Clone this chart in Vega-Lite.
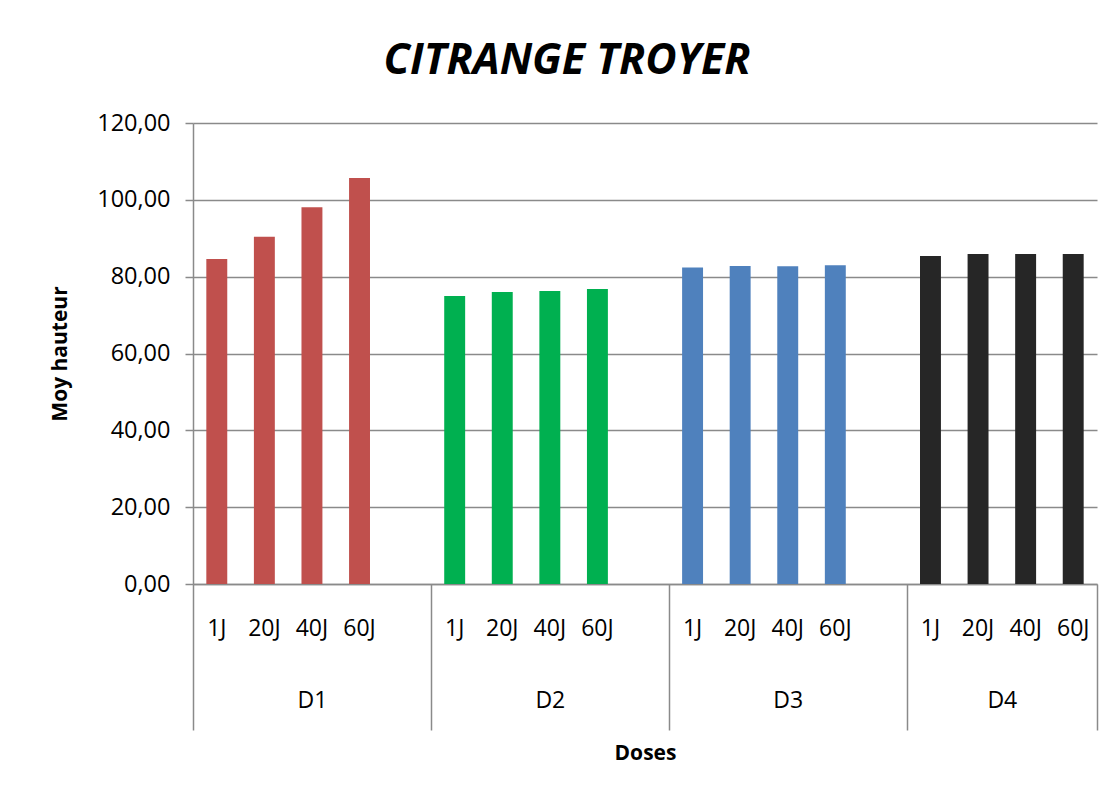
{
  "$schema": "https://vega.github.io/schema/vega-lite/v6.json",
  "width": 904,
  "height": 461,
  "autosize": {"type": "none"},
  "padding": {"left": 193, "top": 123, "right": 18, "bottom": 210},
  "background": "white",
  "title": {
    "text": "CITRANGE TROYER",
    "font": "Open Sans",
    "fontSize": 43,
    "fontWeight": "bold",
    "fontStyle": "italic",
    "color": "black",
    "anchor": "middle",
    "dx": -78,
    "offset": 28
  },
  "config": {
    "view": {"stroke": null},
    "font": "Open Sans",
    "axis": {
      "labelFont": "Open Sans",
      "titleFont": "Open Sans",
      "labelColor": "black",
      "titleColor": "black",
      "domainColor": "#8a8a8a",
      "tickColor": "#8a8a8a",
      "gridColor": "#8a8a8a",
      "domainWidth": 1.5,
      "tickWidth": 1.5,
      "gridWidth": 1.5
    }
  },
  "data": {
    "values": [
      {"dose": "D1", "day": "1J", "key": "D1 1J", "moy": 84.6},
      {"dose": "D1", "day": "20J", "key": "D1 20J", "moy": 90.4},
      {"dose": "D1", "day": "40J", "key": "D1 40J", "moy": 98.1},
      {"dose": "D1", "day": "60J", "key": "D1 60J", "moy": 105.7},
      {"dose": "D2", "day": "1J", "key": "D2 1J", "moy": 75.0},
      {"dose": "D2", "day": "20J", "key": "D2 20J", "moy": 76.0},
      {"dose": "D2", "day": "40J", "key": "D2 40J", "moy": 76.3},
      {"dose": "D2", "day": "60J", "key": "D2 60J", "moy": 76.8},
      {"dose": "D3", "day": "1J", "key": "D3 1J", "moy": 82.4},
      {"dose": "D3", "day": "20J", "key": "D3 20J", "moy": 82.8},
      {"dose": "D3", "day": "40J", "key": "D3 40J", "moy": 82.7},
      {"dose": "D3", "day": "60J", "key": "D3 60J", "moy": 83.0},
      {"dose": "D4", "day": "1J", "key": "D4 1J", "moy": 85.4},
      {"dose": "D4", "day": "20J", "key": "D4 20J", "moy": 85.9},
      {"dose": "D4", "day": "40J", "key": "D4 40J", "moy": 85.9},
      {"dose": "D4", "day": "60J", "key": "D4 60J", "moy": 85.9}
    ]
  },
  "layer": [
    {
      "mark": {"type": "bar"},
      "encoding": {
        "x": {
          "field": "key",
          "type": "nominal",
          "sort": null,
          "scale": {
            "domain": ["D1 1J", "D1 20J", "D1 40J", "D1 60J", "D1 -",
                       "D2 1J", "D2 20J", "D2 40J", "D2 60J", "D2 -",
                       "D3 1J", "D3 20J", "D3 40J", "D3 60J", "D3 -",
                       "D4 1J", "D4 20J", "D4 40J", "D4 60J"],
            "paddingInner": 0.56,
            "paddingOuter": 0.28
          },
          "axis": {
            "orient": "bottom",
            "title": null,
            "ticks": false,
            "grid": false,
            "labelAngle": 0,
            "labelFontSize": 23,
            "labelPadding": 33,
            "labelOverlap": false,
            "labelExpr": "split(datum.value, ' ')[1] == '-' ? '' : split(datum.value, ' ')[1]"
          }
        },
        "y": {
          "field": "moy",
          "type": "quantitative",
          "scale": {"domain": [0, 120], "nice": false},
          "axis": {
            "values": [0, 20, 40, 60, 80, 100, 120],
            "labelExpr": "replace(format(datum.value, '.2f'), '.', ',')",
            "labelFontSize": 23.5,
            "labelPadding": 15,
            "tickSize": 8,
            "grid": true,
            "title": "Moy hauteur",
            "titleFontSize": 21,
            "titleFontWeight": "bold",
            "titlePadding": 26
          }
        },
        "color": {
          "field": "dose",
          "type": "nominal",
          "scale": {"domain": ["D1", "D2", "D3", "D4"], "range": ["#C0504D", "#00B050", "#4F81BD", "#262626"]},
          "legend": null
        }
      }
    },
    {
      "mark": {"type": "point", "opacity": 0},
      "encoding": {
        "x": {
          "datum": 0,
          "type": "quantitative",
          "scale": {"domain": [0, 19], "nice": false, "zero": false},
          "axis": {
            "orient": "bottom",
            "values": [0, 5, 10, 15, 19],
            "labels": false,
            "domain": false,
            "ticks": true,
            "tickSize": 146,
            "grid": false,
            "title": null
          }
        }
      }
    },
    {
      "mark": {"type": "point", "opacity": 0},
      "encoding": {
        "x": {
          "datum": 0,
          "type": "quantitative",
          "scale": {"domain": [0, 19], "nice": false, "zero": false},
          "axis": {
            "orient": "bottom",
            "values": [2.5, 7.5, 12.5, 17],
            "labelExpr": "datum.value < 5 ? 'D1' : datum.value < 10 ? 'D2' : datum.value < 15 ? 'D3' : 'D4'",
            "labelFontSize": 23,
            "labelPadding": 105,
            "labelOverlap": false,
            "domain": false,
            "ticks": false,
            "grid": false,
            "title": "Doses",
            "titleFontSize": 21,
            "titleFontWeight": "bold",
            "titlePadding": 30
          }
        }
      }
    }
  ],
  "resolve": {"scale": {"x": "independent"}, "axis": {"x": "independent"}}
}
